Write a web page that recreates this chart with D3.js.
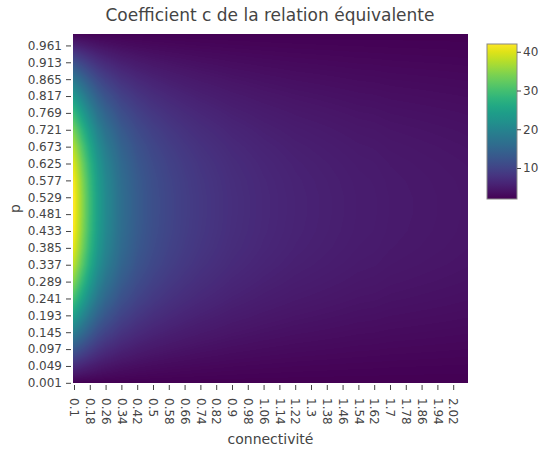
<!DOCTYPE html>
<html>
<head>
<meta charset="utf-8">
<script src="https://cdn.jsdelivr.net/npm/d3@7"></script>
<style>
  body { margin: 0; background: #fff; }
  svg { font-family: "DejaVu Sans", Verdana, sans-serif; }
</style>
</head>
<body>
<div id="chart"></div>
<script>

// tick labels of the two category axes
var xTicks = ["0.1", "0.18", "0.26", "0.34", "0.42", "0.5", "0.58", "0.66", "0.74", "0.82",
              "0.9", "0.98", "1.06", "1.14", "1.22", "1.3", "1.38", "1.46", "1.54", "1.62",
              "1.7", "1.78", "1.86", "1.94", "2.02"];
var pTicks = ["0.001", "0.049", "0.097", "0.145", "0.193", "0.241", "0.289", "0.337", "0.385",
              "0.433", "0.481", "0.529", "0.577", "0.625", "0.673", "0.721", "0.769", "0.817",
              "0.865", "0.913", "0.961"];
var cTicks = [10, 20, 30, 40];

// colour range of the colorbar
var cMin = 2.0, cMax = 42.0;

// connectivity values where c was read along the middle row (p ~ 0.5)
var xCols = [0.1, 0.14, 0.18, 0.22, 0.26, 0.34, 0.42, 0.5, 0.58, 0.66, 0.74, 0.82, 0.9, 0.98,
             1.06, 1.14, 1.22, 1.3, 1.38, 1.46, 1.54, 1.62, 1.7, 1.78, 1.86, 1.94, 2.02, 2.09];
var cAlongX = [42.0, 35.5, 29.5, 24.5, 21.0, 16.3, 13.5, 11.6, 10.3, 9.3, 8.5, 7.9, 7.3, 6.9,
               6.5, 6.2, 5.9, 5.7, 5.5, 5.3, 5.1, 5.0, 4.8, 4.7, 4.6, 4.5, 4.4, 4.3];

// p values where c was read along the left column (connectivity 0.1)
var pRows = [0.001, 0.049, 0.097, 0.145, 0.193, 0.241, 0.289, 0.337, 0.385, 0.433, 0.481,
             0.529, 0.577, 0.625, 0.673, 0.721, 0.769, 0.817, 0.865, 0.913, 0.961, 0.993];
var cAlongP = [2.0, 6.9, 12.8, 18.8, 24.5, 29.8, 34.2, 37.8, 40.2, 41.5, 42.0,
               42.0, 41.3, 39.7, 37.0, 33.3, 28.6, 23.3, 17.6, 11.6, 5.7, 2.5];

var width = 540, height = 451;
var plot = {left: 73, right: 468, top: 34, bottom: 383};

var x = d3.scaleLinear().domain([0.095, 2.095]).range([plot.left, plot.right]);
var y = d3.scaleLinear().domain([0.0005, 0.9935]).range([plot.bottom, plot.top]);
var color = d3.scaleSequential(d3.interpolateViridis).domain([cMin, cMax]);

var svg = d3.select("#chart").append("svg")
    .attr("width", width)
    .attr("height", height);

//The surface is close to separable, so each cell is rebuilt from the two read profiles
var grid = pRows.map(function (p, i) {
    return xCols.map(function (c, j) {
        return cMin + (cAlongP[i] - cMin) * (cAlongX[j] - cMin) / (cAlongX[0] - cMin);
    });
});

function locate(arr, v) {
    var k = d3.bisectRight(arr, v) - 1;
    k = Math.max(0, Math.min(arr.length - 2, k));
    var t = (v - arr[k]) / (arr[k + 1] - arr[k]);
    return [k, Math.max(0, Math.min(1, t))];
}

//Draws the heatmap on a canvas (smoothed like zsmooth) and puts it in the svg
var w = plot.right - plot.left, h = plot.bottom - plot.top;
var canvas = document.createElement("canvas");
canvas.width = w;
canvas.height = h;
var ctx = canvas.getContext("2d");
var img = ctx.createImageData(w, h);

for (var r = 0; r < h; r++) {
    var ly = locate(pRows, y.invert(plot.top + r + 0.5));
    for (var q = 0; q < w; q++) {
        var lx = locate(xCols, x.invert(plot.left + q + 0.5));
        var a = grid[ly[0]][lx[0]], b = grid[ly[0]][lx[0] + 1];
        var c = grid[ly[0] + 1][lx[0]], d = grid[ly[0] + 1][lx[0] + 1];
        var v = (a * (1 - lx[1]) + b * lx[1]) * (1 - ly[1]) + (c * (1 - lx[1]) + d * lx[1]) * ly[1];
        var col = d3.rgb(color(v));
        var o = (r * w + q) * 4;
        img.data[o] = col.r;
        img.data[o + 1] = col.g;
        img.data[o + 2] = col.b;
        img.data[o + 3] = 255;
    }
}
ctx.putImageData(img, 0, 0);

svg.append("image")
    .attr("x", plot.left)
    .attr("y", plot.top)
    .attr("width", w)
    .attr("height", h)
    .attr("href", canvas.toDataURL());

//Axes
var yAxis = svg.append("g")
    .attr("transform", "translate(" + (plot.left - 2) + ",0)")
    .call(d3.axisLeft(y)
        .tickValues(pTicks.map(Number))
        .tickFormat(function (d, i) { return pTicks[i]; })
        .tickSize(5)
        .tickPadding(4));

var xAxis = svg.append("g")
    .attr("transform", "translate(0," + (plot.bottom + 2) + ")")
    .call(d3.axisBottom(x)
        .tickValues(xTicks.map(Number))
        .tickFormat(function (d, i) { return xTicks[i]; })
        .tickSize(5));

xAxis.selectAll("text")
    .attr("transform", "rotate(90)")
    .attr("x", 13)
    .attr("y", 0)
    .attr("dy", "0.35em")
    .style("text-anchor", "start");

svg.selectAll(".domain").remove();
svg.selectAll(".tick line").attr("stroke", "#444");
svg.selectAll(".tick text").attr("fill", "#444").style("font-size", "12px")
    .style("font-family", "'DejaVu Sans', Verdana, sans-serif");

//Titles
svg.append("text")
    .attr("x", 270)
    .attr("y", 21)
    .attr("text-anchor", "middle")
    .attr("fill", "#444")
    .style("font-size", "17px")
    .text("Coefficient c de la relation équivalente");

svg.append("text")
    .attr("x", (plot.left + plot.right) / 2)
    .attr("y", 444)
    .attr("text-anchor", "middle")
    .attr("fill", "#444")
    .style("font-size", "14px")
    .text("connectivité");

svg.append("text")
    .attr("transform", "translate(20," + ((plot.top + plot.bottom) / 2) + ") rotate(-90)")
    .attr("text-anchor", "middle")
    .attr("fill", "#444")
    .style("font-size", "14px")
    .text("p");

//Colorbar
var cb = {left: 487, width: 30, top: 44, bottom: 199};
var cbScale = d3.scaleLinear().domain([cMin, cMax]).range([cb.bottom, cb.top]);

var grad = svg.append("defs").append("linearGradient")
    .attr("id", "cbar")
    .attr("x1", 0).attr("y1", 1).attr("x2", 0).attr("y2", 0);

grad.selectAll("stop")
    .data(d3.range(0, 1.0001, 0.05))
    .enter().append("stop")
    .attr("offset", function (t) { return t; })
    .attr("stop-color", function (t) { return d3.interpolateViridis(t); });

svg.append("rect")
    .attr("x", cb.left)
    .attr("y", cb.top)
    .attr("width", cb.width)
    .attr("height", cb.bottom - cb.top)
    .attr("fill", "url(#cbar)")
    .attr("stroke", "#888")
    .attr("stroke-width", 1);

var cAxis = svg.append("g")
    .attr("transform", "translate(" + (cb.left + cb.width) + ",0)")
    .call(d3.axisRight(cbScale).tickValues(cTicks).tickSize(4).tickPadding(2));

cAxis.select(".domain").remove();
cAxis.selectAll("line").attr("stroke", "#444");
cAxis.selectAll("text").attr("fill", "#444").style("font-size", "12px")
    .style("font-family", "'DejaVu Sans', Verdana, sans-serif");

</script>
</body>
</html>
